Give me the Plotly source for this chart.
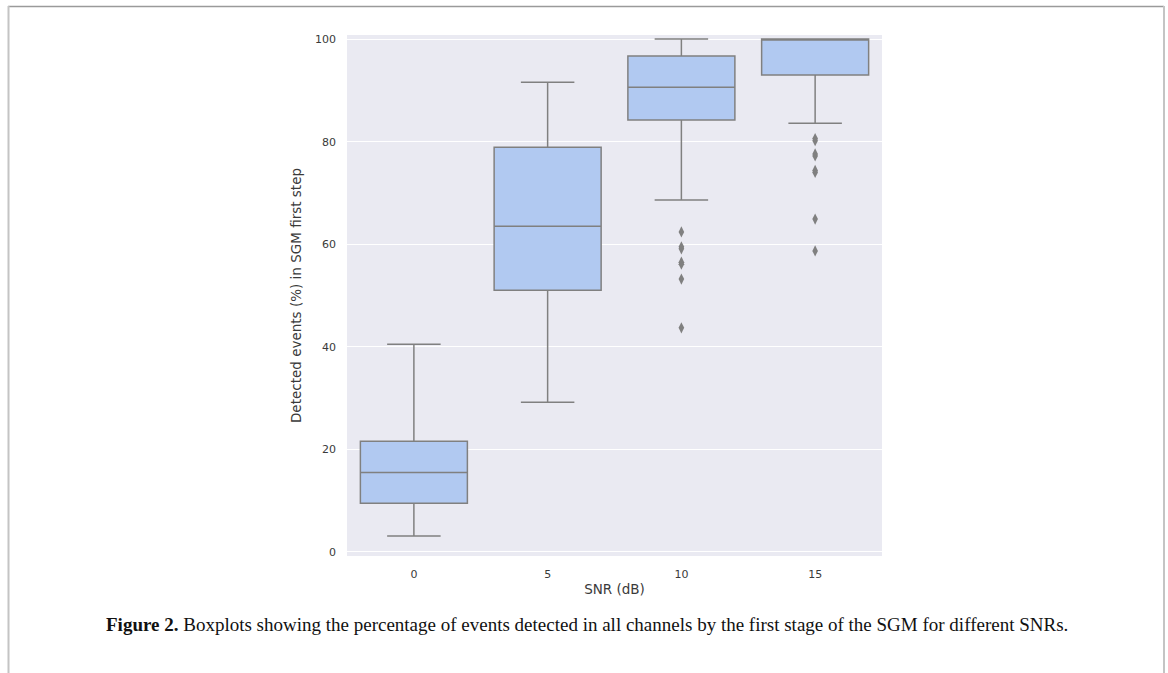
import plotly.graph_objects as go

# ---- data ----
snr_labels = ["0", "5", "10", "15"]
q1 = [9.5, 51.0, 84.2, 93.0]
median = [15.5, 63.5, 90.6, 100.0]
q3 = [21.6, 78.9, 96.7, 100.0]
lower_whisker = [3.1, 29.2, 68.6, 83.6]
upper_whisker = [40.5, 91.6, 100.0, 100.0]
outliers_10 = [62.4, 59.5, 59.1, 56.5, 56.1, 53.2, 43.7]
outliers_15 = [80.6, 80.2, 77.6, 77.2, 74.4, 74.0, 64.9, 58.7]

LINE = "#808080"
FILL = "#b1c9f1"

fig = go.Figure()
for i, lab in enumerate(snr_labels):
    fig.add_trace(go.Box(
        x=[i], q1=[q1[i]], median=[median[i]], q3=[q3[i]],
        lowerfence=[lower_whisker[i]], upperfence=[upper_whisker[i]],
        width=0.8, whiskerwidth=0.5, fillcolor=FILL,
        line=dict(color=LINE, width=1.5), boxpoints=False,
        showlegend=False, hoverinfo="skip"))

out_x = [2] * len(outliers_10) + [3] * len(outliers_15)
out_y = outliers_10 + outliers_15
fig.add_trace(go.Scatter(
    x=out_x, y=out_y, mode="markers",
    marker=dict(symbol="diamond-tall", size=8, color=LINE, line=dict(width=0)),
    showlegend=False, hoverinfo="skip"))

# page geometry
W, H = 1168, 673
L, R, T, B = 347, 882, 35, 556
pw, ph = R - L, B - T

def px(xp):
    return (xp - L) / pw

def py(yp):
    return (B - yp) / ph

shapes = [
    dict(type="line", xref="paper", yref="paper", x0=px(8), x1=px(1164), y0=py(6.5), y1=py(6.5),
         line=dict(color="#9a9a9a", width=1.5)),
    dict(type="line", xref="paper", yref="paper", x0=px(8.5), x1=px(8.5), y0=py(6), y1=py(673),
         line=dict(color="#c4c4c4", width=2)),
    dict(type="line", xref="paper", yref="paper", x0=px(1164), x1=px(1164), y0=py(6), y1=py(673),
         line=dict(color="#c4c4c4", width=2)),
]

fig.update_layout(
    width=W, height=H,
    margin=dict(l=L, r=W - R, t=T, b=H - B),
    paper_bgcolor="white", plot_bgcolor="#eaeaf2",
    font=dict(family="DejaVu Sans", color="#3a3a3a", size=11),
    shapes=shapes,
    xaxis=dict(
        range=[-0.5, 3.5], tickmode="array", tickvals=[0, 1, 2, 3], ticktext=snr_labels,
        showgrid=False, zeroline=False, showline=False, ticks="",
        tickfont=dict(size=11, color="#3a3a3a"), ticklabelstandoff=10,
        title=dict(text="SNR (dB)", font=dict(size=13.5, color="#3a3a3a"), standoff=4),
    ),
    yaxis=dict(
        range=[-0.8, 100.8], tickvals=[0, 20, 40, 60, 80, 100],
        showgrid=True, gridcolor="white", gridwidth=1.2, zeroline=False, showline=False,
        ticks="", tickfont=dict(size=11, color="#3a3a3a"), ticklabelstandoff=10,
        title=dict(text="Detected events (%) in SGM first step", font=dict(size=13.5, color="#3a3a3a"), standoff=10),
    ),
    annotations=[dict(
        xref="paper", yref="paper", x=px(587), y=py(624), xanchor="center", yanchor="middle",
        showarrow=False,
        text="<b>Figure 2.</b> Boxplots showing the percentage of events detected in all channels by the first stage of the SGM for different SNRs.",
        font=dict(family="Liberation Serif", size=19, color="#111111"),
    )],
)

fig.write_html("out.html", config={"displayModeBar": False},
               post_script="document.body.style.margin='0px';")
